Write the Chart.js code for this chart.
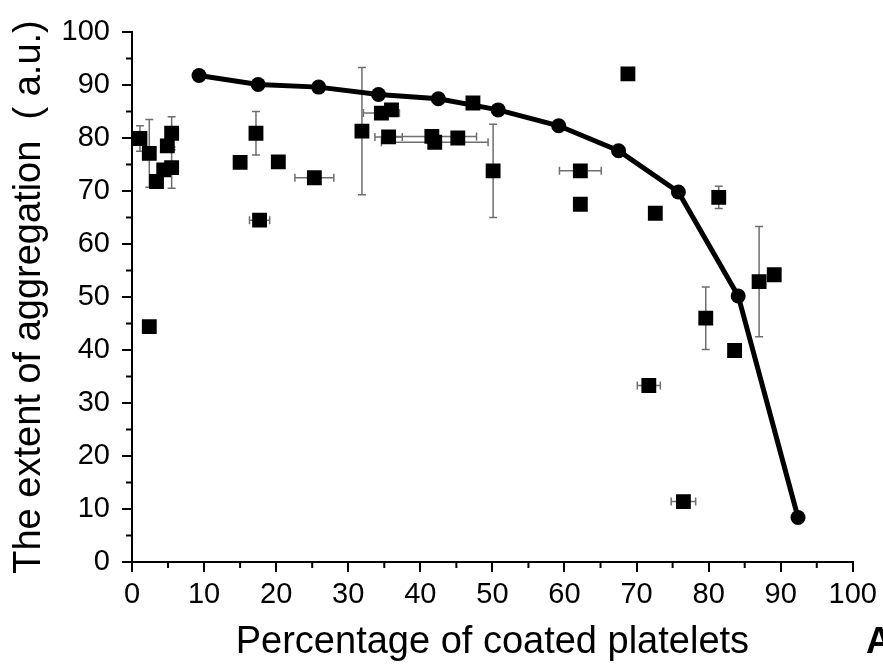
<!DOCTYPE html>
<html>
<head>
<meta charset="utf-8">
<title>Aggregation vs coated platelets</title>
<script src="https://cdn.jsdelivr.net/npm/chart.js@4.4.1/dist/chart.umd.min.js"></script>
<style>
    body { margin: 0; background: #fff; }
    canvas { display: block; }
</style>
</head>
<body>
<canvas id="aggChart" width="883" height="669"></canvas>
<script>
// measured samples (squares) with their error half-widths
const sampleX    = [1.1, 2.4, 2.4, 3.4, 4.4, 5.5, 4.9, 5.5, 15.0, 17.2, 17.7, 20.3, 25.3, 31.9, 34.6, 36.0, 35.6,
                    41.6, 42.0, 45.2, 47.3, 50.1, 62.2, 62.2, 68.8, 72.6, 71.7, 76.5, 79.6, 81.4, 83.6, 87.0, 89.1];
const sampleY    = [79.9, 77.1, 44.4, 71.8, 74.0, 74.4, 78.5, 80.9, 75.4, 80.9, 64.5, 75.5, 72.5, 81.3, 84.7, 85.3, 80.2,
                    80.3, 79.2, 80.0, 86.6, 73.8, 73.8, 67.5, 92.1, 65.8, 33.3, 11.4, 46.0, 68.8, 39.9, 52.9, 54.2];
const sampleErrX = [0, 0, 0, 0, 0, 0, 0, 0, 0, 0, 1.4, 0, 2.7, 0, 2.5, 0, 1.9,
                    6.2, 7.4, 0, 0, 0, 2.9, 0, 0, 0, 1.6, 1.7, 0, 0, 0, 0, 0];
const sampleErrY = [2.4, 6.4, 0, 0, 0, 3.9, 0, 3.1, 0, 4.1, 0, 0, 0, 12.0, 0, 0, 0,
                    0, 0, 0, 0, 8.8, 0, 0, 0, 0, 0, 0, 5.9, 2.1, 0, 10.4, 0];

// model curve (circles joined by a line)
const curveX = [9.3, 17.5, 25.9, 34.2, 42.5, 50.8, 59.2, 67.5, 75.8, 84.1, 92.4];
const curveY = [91.8, 90.1, 89.6, 88.2, 87.4, 85.3, 82.3, 77.6, 69.8, 50.2, 8.4];

const axisTicks = [0, 10, 20, 30, 40, 50, 60, 70, 80, 90, 100];

const FONT = "'Liberation Sans', Arial, sans-serif";

// error bars, drawn under the markers
const errorBars = {
    id: 'errorBars',
    beforeDatasetsDraw(chart) {
        const { ctx, scales: { x, y } } = chart;
        const cap = 4;
        ctx.save();
        ctx.strokeStyle = '#6e6e6e';
        ctx.lineWidth = 1.5;
        sampleX.forEach((vx, i) => {
            const px = x.getPixelForValue(vx);
            const py = y.getPixelForValue(sampleY[i]);
            ctx.beginPath();
            if (sampleErrY[i] > 0) {
                const top = y.getPixelForValue(sampleY[i] + sampleErrY[i]);
                const bot = y.getPixelForValue(sampleY[i] - sampleErrY[i]);
                ctx.moveTo(px, top); ctx.lineTo(px, bot);
                ctx.moveTo(px - cap, top); ctx.lineTo(px + cap, top);
                ctx.moveTo(px - cap, bot); ctx.lineTo(px + cap, bot);
            }
            if (sampleErrX[i] > 0) {
                const l = x.getPixelForValue(vx - sampleErrX[i]);
                const r = x.getPixelForValue(vx + sampleErrX[i]);
                ctx.moveTo(l, py); ctx.lineTo(r, py);
                ctx.moveTo(l, py - cap); ctx.lineTo(l, py + cap);
                ctx.moveTo(r, py - cap); ctx.lineTo(r, py + cap);
            }
            ctx.stroke();
        });
        ctx.restore();
    }
};

// short ticks halfway between the labelled ones
const minorTicks = {
    id: 'minorTicks',
    afterDraw(chart) {
        const { ctx, chartArea, scales: { x, y } } = chart;
        const len = 6;
        ctx.save();
        ctx.strokeStyle = '#000';
        ctx.lineWidth = 2;
        ctx.beginPath();
        for (let v = 5; v < 100; v += 10) {
            const px = x.getPixelForValue(v);
            ctx.moveTo(px, chartArea.bottom);
            ctx.lineTo(px, chartArea.bottom + len);
            const py = y.getPixelForValue(v);
            ctx.moveTo(chartArea.left, py);
            ctx.lineTo(chartArea.left - len, py);
        }
        ctx.stroke();
        // panel letter
        ctx.fillStyle = '#000';
        ctx.font = `bold 36px ${FONT}`;
        ctx.textAlign = 'left';
        ctx.textBaseline = 'alphabetic';
        ctx.fillText('A', 866, 653);
        ctx.restore();
    }
};

const samplePoints = sampleX.map((vx, i) => ({ x: vx, y: sampleY[i] }));
const curvePoints = curveX.map((vx, i) => ({ x: vx, y: curveY[i] }));

const axisCommon = {
    type: 'linear',
    min: 0,
    max: 100,
    afterBuildTicks: scale => { scale.ticks = axisTicks.map(v => ({ value: v })); },
    grid: { drawOnChartArea: false, drawTicks: true, tickLength: 10, color: '#000', lineWidth: 2 },
    border: { display: true, color: '#000', width: 2 }
};

const ctx = document.getElementById('aggChart').getContext('2d');
new Chart(ctx, {
    type: 'scatter',
    data: {
        datasets: [
            {
                label: 'samples',
                data: samplePoints,
                pointStyle: 'rect',
                pointRadius: 10.5,
                backgroundColor: '#000',
                borderColor: '#000',
                borderWidth: 0,
                showLine: false
            },
            {
                label: 'curve',
                data: curvePoints,
                showLine: true,
                tension: 0,
                borderColor: '#000',
                borderWidth: 5,
                pointStyle: 'circle',
                pointRadius: 7.5,
                backgroundColor: '#000',
                pointBorderWidth: 0
            }
        ]
    },
    options: {
        responsive: false,
        animation: false,
        layout: { padding: { top: 32, right: 30, left: 0, bottom: 0 } },
        plugins: { legend: { display: false }, tooltip: { enabled: false } },
        scales: {
            x: {
                ...axisCommon,
                position: 'bottom',
                afterFit: s => { s.height = 107; },
                ticks: { color: '#000', font: { family: FONT, size: 29 }, padding: 6, maxRotation: 0 },
                title: {
                    display: true,
                    text: 'Percentage of coated platelets',
                    color: '#000',
                    font: { family: FONT, size: 38 },
                    padding: { top: 0, bottom: 4 }
                }
            },
            y: {
                ...axisCommon,
                position: 'left',
                afterFit: s => { s.width = 132; },
                ticks: { color: '#000', font: { family: FONT, size: 29 }, padding: 12 },
                title: {
                    display: true,
                    text: 'The extent of aggregation  ( a.u.)',
                    color: '#000',
                    font: { family: FONT, size: 38 },
                    padding: { top: 7, bottom: 0 }
                }
            }
        }
    },
    plugins: [errorBars, minorTicks]
});
</script>
</body>
</html>
